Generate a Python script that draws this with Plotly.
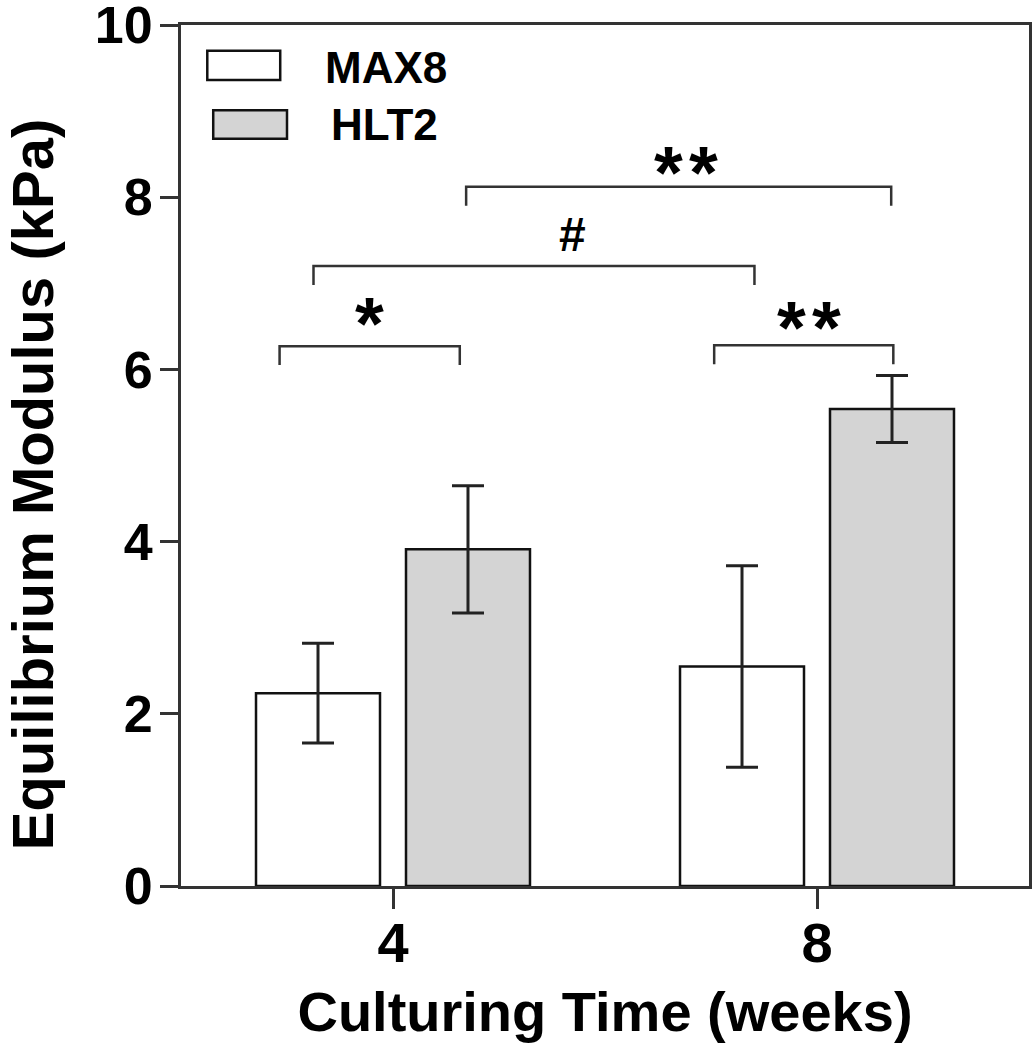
import plotly.graph_objects as go

# ---- data ----
weeks = [4, 8]
tick_labels = ["4", "8"]
max8_mean = [2.24, 2.55]
max8_err = [0.58, 1.17]
hlt2_mean = [3.91, 5.54]
hlt2_err = [0.74, 0.39]

# significance brackets: x-start, x-end, bracket height, label, label x, label y
br_x0 = [2.93, 3.25, 4.69, 7.03]
br_x1 = [4.63, 7.41, 8.70, 8.72]
br_y = [6.27, 7.20, 8.12, 6.28]
br_label = ["*", "#", "*\u200a*", "*\u200a*"]
br_lx = [3.78, 5.69, 6.76, 7.92]
br_ly = [6.67, 7.57, 8.43, 6.63]

FONT = "Liberation Sans, Arial, Helvetica, sans-serif"
LINE = "#333333"

fig = go.Figure()
fig.add_trace(go.Bar(
    x=weeks, y=max8_mean, name="MAX8",
    marker=dict(color="white", line=dict(color="#111111", width=2.5)),
    error_y=dict(type="data", array=max8_err, color="#222222", thickness=3, width=16),
    showlegend=False,
))
fig.add_trace(go.Bar(
    x=weeks, y=hlt2_mean, name="HLT2",
    marker=dict(color="#d4d4d4", line=dict(color="#111111", width=2.5)),
    error_y=dict(type="data", array=hlt2_err, color="#222222", thickness=3, width=16),
    showlegend=False,
))

leg = 0.22
for x0, x1, y, lab, lx, ly in zip(br_x0, br_x1, br_y, br_label, br_lx, br_ly):
    fig.add_shape(type="path", xref="x", yref="y",
                  path=f"M {x0} {y-leg} L {x0} {y} L {x1} {y} L {x1} {y-leg}",
                  line=dict(color=LINE, width=2.5))
    is_star = "*" in lab
    fig.add_annotation(x=lx, y=ly, xref="x", yref="y", text=lab, showarrow=False,
                       font=dict(family=FONT, size=74 if is_star else 48, color="black", weight="bold"),
                       yanchor="middle", xanchor="center",
                       yshift=-12 if is_star else 0)

# legend drawn manually (large swatches like the original)
legend_names = ["MAX8", "HLT2"]
legend_fill = ["white", "#d4d4d4"]
sw_x0 = [0.031, 0.038]
sw_x1 = [0.117, 0.125]
sw_y0 = [0.936, 0.868]
sw_y1 = [0.970, 0.901]
tx_x = [0.1675, 0.1745]
tx_y = [0.9506, 0.8839]
for i in range(2):
    fig.add_shape(type="rect", xref="paper", yref="paper",
                  x0=sw_x0[i], x1=sw_x1[i], y0=sw_y0[i], y1=sw_y1[i],
                  fillcolor=legend_fill[i], line=dict(color="#111111", width=2.5))
    fig.add_annotation(x=tx_x[i], y=tx_y[i], xref="paper", yref="paper",
                       text=legend_names[i], showarrow=False, xanchor="left", yanchor="middle",
                       font=dict(family=FONT, size=44, color="black", weight="bold"))

# y-axis title (placed as rotated annotation to match the original position)
fig.add_annotation(x=-0.1755, y=0.4657, xref="paper", yref="paper",
                   text="Equilibrium Modulus (kPa)", textangle=-90, showarrow=False,
                   xanchor="center", yanchor="middle",
                   font=dict(family=FONT, size=58, color="black", weight="bold"))

fig.update_layout(
    width=1034, height=1050,
    margin=dict(l=181, r=5, t=25, b=164),
    plot_bgcolor="white", paper_bgcolor="white",
    barmode="group", bargap=0.2925, bargroupgap=0.1733,
    font=dict(family=FONT, color="black"),
)
fig.update_xaxes(
    range=[2, 10], tickvals=weeks, ticktext=tick_labels, automargin=False,
    ticks="outside", ticklen=20, tickwidth=2.5, tickcolor=LINE,
    showline=True, linecolor=LINE, linewidth=3, mirror=True,
    showgrid=False, zeroline=False, ticklabelstandoff=-14,
    tickfont=dict(family=FONT, size=56, color="black", weight="bold"),
    title=dict(text="Culturing Time (weeks)", standoff=19,
               font=dict(family=FONT, size=56, color="black", weight="bold")),
)
fig.update_yaxes(
    range=[0, 10], dtick=2, automargin=False,
    ticks="outside", ticklen=18, tickwidth=2.5, tickcolor=LINE,
    showline=True, linecolor=LINE, linewidth=3, mirror=True,
    showgrid=False, zeroline=False, ticklabelstandoff=-3, ticklabeloverflow="allow",
    tickfont=dict(family=FONT, size=52, color="black", weight="bold"),
)

fig.write_html("out.html", config={"displayModeBar": False},
               post_script="document.body.style.margin='0';document.body.style.overflow='hidden';")
